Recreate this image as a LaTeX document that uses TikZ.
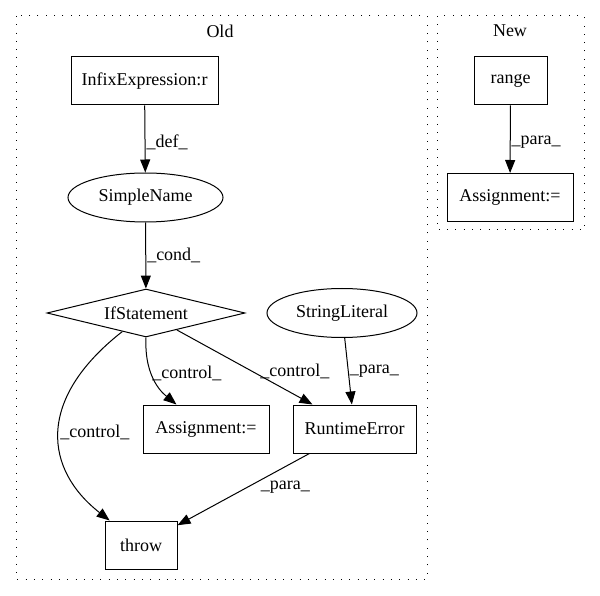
\documentclass[tikz,border=0pt]{standalone}
\usepackage{fontspec}
\setmainfont{Liberation Serif}
\usetikzlibrary{shapes.geometric,arrows.meta}
\tikzset{
  box/.style={draw,rectangle,line width=1pt,minimum height=48pt,inner sep=0pt},
  oval/.style={draw,ellipse,line width=1pt,minimum height=49pt,inner sep=0pt},
  decision/.style={draw,diamond,aspect=4,line width=1pt,inner sep=0pt,minimum width=198pt,minimum height=48pt},
  flow/.style={line width=1pt,-{Triangle[length=13pt,width=10pt]}},
  lbl/.style={inner sep=1pt,anchor=west},
  cluster/.style={line width=1pt,dash pattern=on 1pt off 7.3pt}
}

\begin{document}
\begin{tikzpicture}[x=1pt,y=-1pt,font=\fontsize{18}{21}\selectfont]
                \useasboundingbox (0,0) rectangle (600,596);
                \draw[cluster] (16,16) rectangle (427,579);
                \draw[cluster] (437,16) rectangle (584,230);
                \node (oldlbl) at (220,31) {Old};
                \node (newlbl) at (510,31) {New};

                \node[box,minimum width=147pt] (infix) at (144.5,81) {InfixExpression:r};
                \node[oval,minimum width=155pt] (simple) at (145.5,197.5) {SimpleName};
                \node[decision] (ifst) at (146,313) {IfStatement};
                \node[oval,minimum width=150pt] (strlit) at (342,313) {StringLiteral};
                \node[box,minimum width=126pt] (assign) at (206,429) {Assignment:=};
                \node[box,minimum width=123pt] (runerr) at (354.5,429) {RuntimeError};
                \node[box,minimum width=72pt] (throw) at (141,545) {throw};

                \node[box,minimum width=73pt] (range) at (510.5,81) {range};
                \node[box,minimum width=126pt] (assignb) at (510,197.5) {Assignment:=};

                \draw[flow] (infix) -- node[lbl,pos=0.55]{\_def\_} (simple);
                \draw[flow] (simple) -- node[lbl,pos=0.5]{\_cond\_} (ifst);
                \draw[flow] (ifst) .. controls (35,400) and (45,470) .. node[lbl,pos=0.5]{\_control\_} (throw);
                \draw[flow] (ifst.south) .. controls (144,380) and (165,395) .. node[lbl,pos=0.35]{\_control\_} (assign);
                \draw[flow] (ifst) -- node[lbl,pos=0.56,xshift=6pt]{\_control\_} ([xshift=20pt]runerr.north west);
                \draw[flow] (strlit) -- node[lbl,pos=0.5]{\_para\_} (runerr);
                \draw[flow] (runerr) -- node[lbl,pos=0.47,xshift=12pt]{\_para\_} (throw);
                \draw[flow] (range) -- node[lbl,pos=0.55]{\_para\_} (assignb);
            \end{tikzpicture}
\end{document}
